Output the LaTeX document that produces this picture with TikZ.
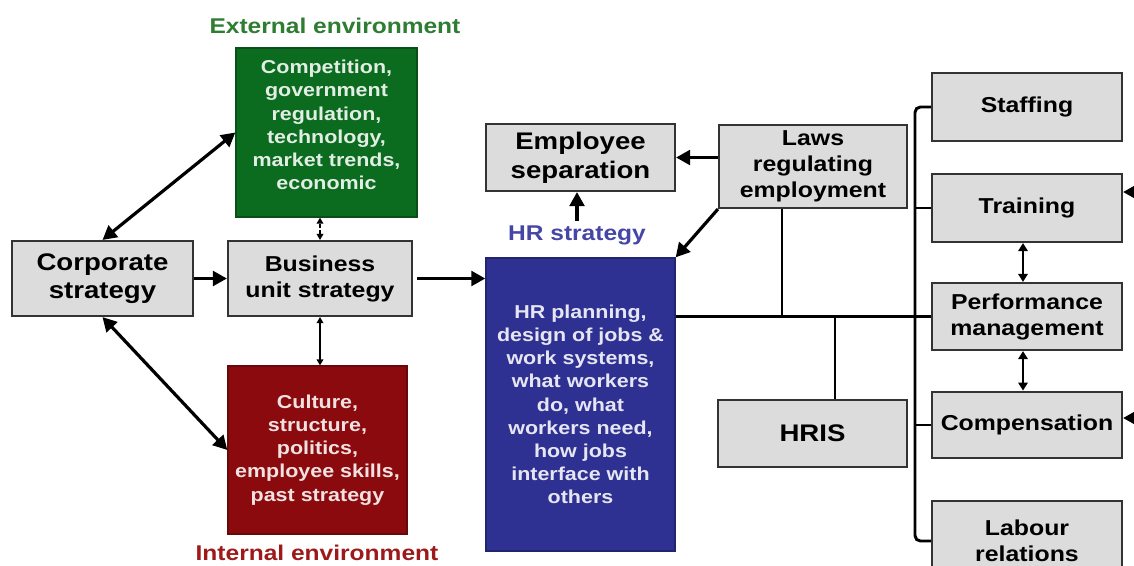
\documentclass[tikz,border=0pt]{standalone}
\usepackage{fontspec}
\setmainfont{Liberation Sans}[FakeStretch=1.15]
\usepackage{xcolor}
\usetikzlibrary{arrows.meta}

\definecolor{boxgray}{HTML}{DCDCDC}
\definecolor{edgegray}{HTML}{333333}
\definecolor{extgreen}{HTML}{0B6B1F}
\definecolor{extlabel}{HTML}{2E7D32}
\definecolor{intred}{HTML}{8B0A0E}
\definecolor{intlabel}{HTML}{9E1A1A}
\definecolor{hrblue}{HTML}{2E3192}
\definecolor{hrlabel}{HTML}{4646A6}

\tikzset{
  graybox/.style={draw=edgegray, line width=1.6pt, fill=boxgray, align=center,
    inner sep=1pt, font=\fontsize{16.2}{19.5}\selectfont\bfseries},
  bigtext/.style={font=\fontsize{18}{21.5}\selectfont\bfseries},
  envbox/.style={draw=#1!75!black, line width=1pt, fill=#1, align=center,
    text=white!88!#1, font=\fontsize{14}{17.4}\selectfont\bfseries},
  envlabel/.style={text=#1, font=\fontsize{16}{19}\selectfont\bfseries},
  thickarrow/.style={line width=2.4pt, -{Triangle[length=10.5pt,width=11pt]}},
  twoway/.style={line width=2.4pt, {Triangle[length=10.5pt,width=11pt]}-{Triangle[length=10.5pt,width=11pt]}},
  thinway/.style={line width=1pt, {Triangle[length=4.5pt,width=5pt]}-{Triangle[length=4.5pt,width=5pt]}},
  midway2/.style={line width=1.7pt, {Triangle[length=6pt,width=7pt]}-{Triangle[length=6pt,width=7pt]}},
  busline/.style={line width=2.2pt, black},
}

\begin{document}
\begin{tikzpicture}[x=0.75pt, y=-0.75pt]

    \fill[white] (0,0) rectangle (1134,565);
    \clip (0,0) rectangle (1134,565);

    % strategy boxes on the left
    \node[graybox, bigtext, minimum width=135.75pt, minimum height=56.25pt] (corp) at (102.5,278.5) {Corporate\\strategy};
    \node[graybox, minimum width=138pt, minimum height=56.25pt] (bus) at (320,278.5) {Business\\unit strategy};

    % environments
    \node[envbox=extgreen, minimum width=135.75pt, minimum height=126.75pt] (ext) at (326.5,132.5)
        {Competition,\\government\\regulation,\\technology,\\market trends,\\economic\\[-6pt]};
    \node[envlabel=extlabel] (extlbl) at (335,26) {External environment};
    \node[envbox=intred, minimum width=134.25pt, minimum height=126pt] (int) at (317.5,450)
        {Culture,\\structure,\\politics,\\employee skills,\\past strategy};
    \node[envlabel=intlabel] (intlbl) at (317,553) {Internal environment};

    % HR strategy
    \node[envbox=hrblue, minimum width=141.75pt, minimum height=219.75pt] (hr) at (580.5,404.5)
        {HR planning,\\design of jobs \&\\work systems,\\what workers\\do, what\\workers need,\\how jobs\\interface with\\others};
    \node[envlabel=hrlabel] (hrlbl) at (577,235) {HR strategy};
    \node[graybox, bigtext, minimum width=141.75pt, minimum height=50.25pt] (sep) at (580.5,157.5) {Employee\\separation};
    \node[graybox, minimum width=141pt, minimum height=62.25pt] (laws) at (813,166.5) {Laws\\regulating\\employment};
    \node[graybox, bigtext, minimum width=141.75pt, minimum height=50.25pt] (hris) at (812.5,433.5) {HRIS};

    % HR functions
    \node[graybox, minimum width=142.5pt, minimum height=51pt] (staff) at (1027,107) {Staffing};
    \node[graybox, minimum width=142.5pt, minimum height=51pt] (train) at (1027,208) {Training};
    \node[graybox, minimum width=142.5pt, minimum height=50.25pt] (perf) at (1027,316.5) {Performance\\management};
    \node[graybox, minimum width=142.5pt, minimum height=50pt] (comp) at (1027,425) {Compensation};
    \node[graybox, minimum width=142.5pt, minimum height=60pt] (labour) at (1027,541) {Labour\\relations};

    % arrows between strategies
    \draw[twoway] (corp.north) -- (ext.west);
    \draw[twoway] (corp.south) -- (int.west);
    \draw[thickarrow] (corp.east) -- (bus.west);
    \draw[thinway, dash pattern=on 3pt off 2pt] (bus.north) -- (bus.north |- ext.south);
    \draw[thinway] (bus.south) -- (bus.south |- int.north);
    \draw[thickarrow] ([xshift=3pt]bus.east) -- (bus.east -| hr.west);
    \draw[thickarrow] (hrlbl.north) -- (hrlbl.north |- sep.south);
    \draw[thickarrow] (laws.west |- sep.east) -- (sep.east);
    \draw[thickarrow] (laws.south west) -- (hr.north east);

    % connecting lines
    \coordinate (tapL) at (782,316);
    \coordinate (tapH) at (835,316);
    \coordinate (spine) at (915,0);
    \draw[busline] (hr.east |- perf.west) -- (perf.west);
    \draw[busline] (tapL |- laws.south) -- (tapL);
    \draw[busline] (tapH) -- (tapH |- hris.north);
    \draw[busline, rounded corners=4pt] (staff.west) -- (staff.west -| spine) -- (spine |- labour.west) -- (labour.west);
    \draw[busline] (train.west) -- (train.west -| spine);
    \draw[busline] (comp.west) -- (comp.west -| spine);

    \draw[midway2] ([xshift=-3pt]train.south) -- ([xshift=-3pt]perf.north);
    \draw[midway2] ([xshift=-3pt]perf.south) -- ([xshift=-3pt]comp.north);

    % inputs coming in from the right
    \coordinate (inT) at (1170,192);
    \coordinate (inC) at (1170,418);
    \draw[thickarrow] (inT) -- (inT -| train.east);
    \draw[thickarrow] (inC) -- (inC -| comp.east);

\end{tikzpicture}
\end{document}
